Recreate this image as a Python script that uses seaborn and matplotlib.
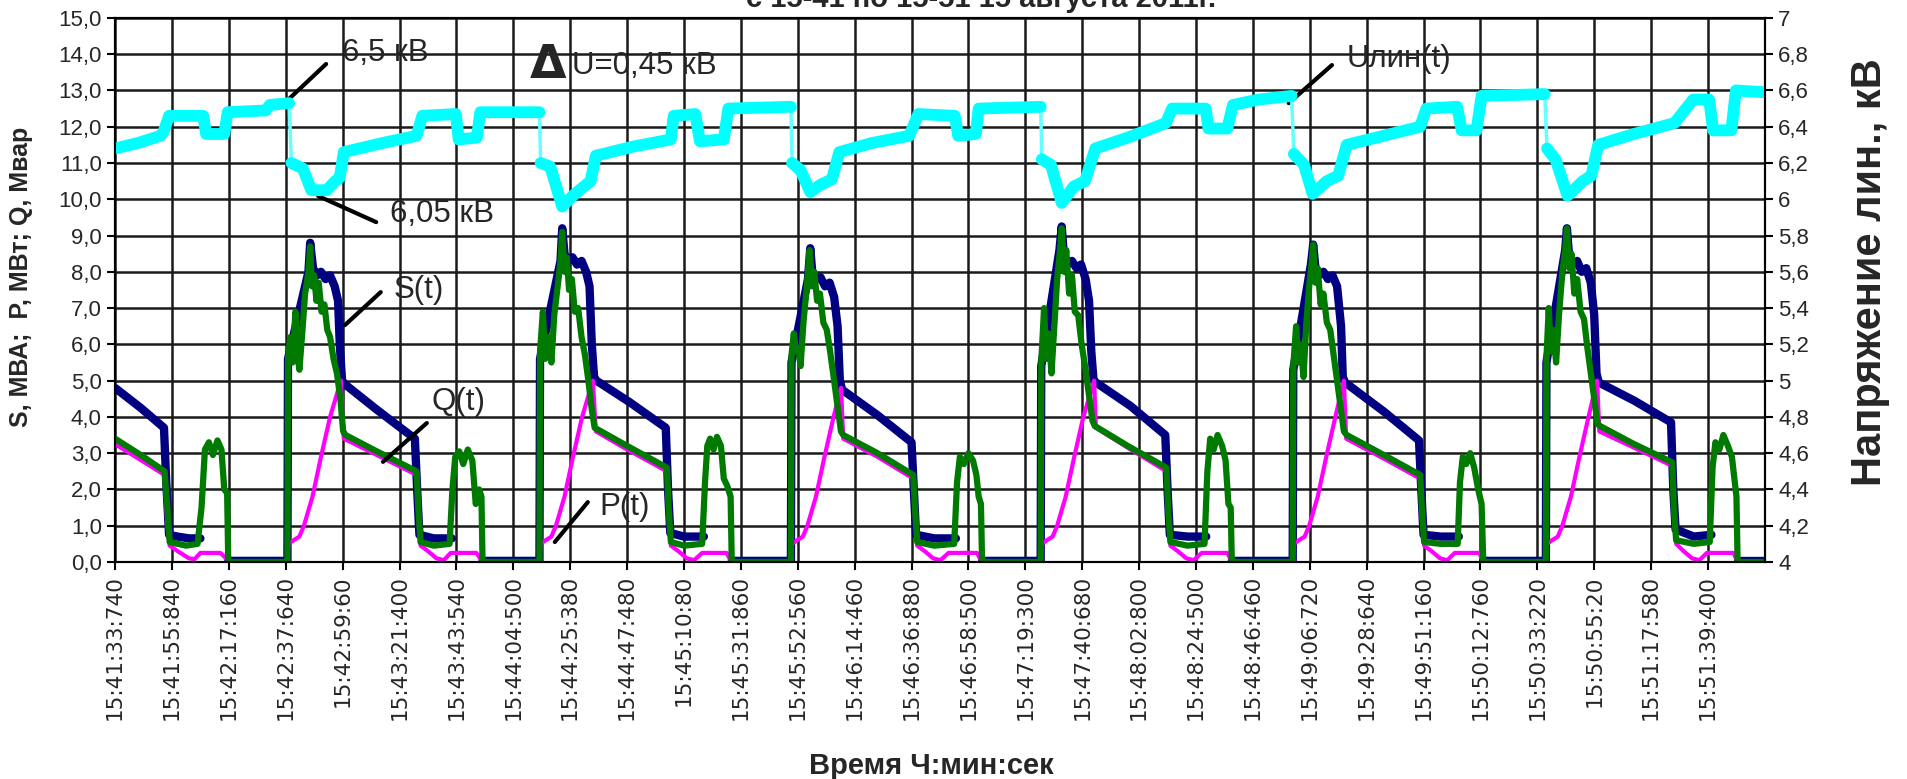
import matplotlib.pyplot as plt
import pandas as pd
import seaborn as sns

sns.set_style('ticks')
plt.rcParams['font.family'] = ['Liberation Sans', 'DejaVu Sans']
plt.rcParams['lines.solid_joinstyle'] = 'round'

# x tick labels (one per category tick, position = index)
time_labels = ['15:41:33:740', '15:41:55:840', '15:42:17:160', '15:42:37:640', '15:42:59:60',
               '15:43:21:400', '15:43:43:540', '15:44:04:500', '15:44:25:380', '15:44:47:480',
               '15:45:10:80', '15:45:31:860', '15:45:52:560', '15:46:14:460', '15:46:36:880',
               '15:46:58:500', '15:47:19:300', '15:47:40:680', '15:48:02:800', '15:48:24:500',
               '15:48:46:460', '15:49:06:720', '15:49:28:640', '15:49:51:160', '15:50:12:760',
               '15:50:33:220', '15:50:55:20', '15:51:17:580', '15:51:39:400']

# Q(t), Мвар  (x in tick units, value)
q_points = [
    (0.00, 3.40), (0.45, 2.95), (0.87, 2.50), (0.92, 1.50), (0.96, 0.55), (1.10, 0.50), (1.25, 0.45),
    (1.45, 0.50), (1.52, 1.50), (1.58, 3.10), (1.65, 3.30), (1.72, 2.95), (1.80, 3.35), (1.87, 3.10),
    (1.92, 2.00), (1.97, 1.90), (1.99, 0.00), (3.03, 0.00),
    (3.04, 5.60), (3.08, 6.20), (3.12, 5.50), (3.17, 6.90), (3.20, 5.80), (3.24, 5.30), (3.29, 6.30),
    (3.34, 7.40), (3.40, 8.00), (3.43, 8.70), (3.46, 7.60), (3.50, 7.90), (3.54, 7.20), (3.58, 7.70),
    (3.63, 6.90), (3.68, 7.10), (3.73, 6.40), (3.78, 6.20), (3.84, 5.60), (3.90, 5.20), (3.96, 4.50),
    (4.01, 3.60), (4.05, 3.50), (4.60, 3.05), (5.30, 2.50), (5.33, 1.50), (5.37, 0.55), (5.60, 0.45),
    (5.88, 0.50), (5.93, 2.00), (5.98, 2.90), (6.05, 3.05), (6.12, 2.70), (6.20, 3.10), (6.28, 2.80),
    (6.34, 1.60), (6.40, 2.00), (6.44, 1.80), (6.46, 0.00), (7.46, 0.00),
    (7.47, 5.80), (7.52, 6.90), (7.56, 5.60), (7.62, 6.20), (7.67, 5.50), (7.72, 6.80), (7.78, 7.60),
    (7.83, 8.30), (7.86, 9.10), (7.90, 8.00), (7.94, 8.40), (7.98, 7.50), (8.03, 7.80), (8.08, 6.90),
    (8.14, 7.00), (8.20, 6.20), (8.26, 5.70), (8.32, 5.00), (8.38, 4.20), (8.43, 3.70), (9.00, 3.20),
    (9.70, 2.60), (9.73, 1.50), (9.77, 0.55), (10.00, 0.45), (10.32, 0.50), (10.37, 2.20), (10.41, 3.20),
    (10.46, 3.40), (10.52, 3.10), (10.58, 3.45), (10.65, 3.20), (10.70, 2.30), (10.76, 2.10),
    (10.82, 1.80), (10.84, 0.00), (11.88, 0.00),
    (11.89, 5.70), (11.93, 6.30), (11.97, 5.80), (12.01, 5.90), (12.05, 5.40), (12.10, 6.60),
    (12.16, 7.60), (12.21, 8.60), (12.25, 7.60), (12.29, 8.00), (12.34, 7.20), (12.39, 7.40),
    (12.45, 6.60), (12.51, 6.40), (12.57, 5.80), (12.63, 5.10), (12.69, 4.40), (12.76, 3.60),
    (12.80, 3.50), (13.40, 3.00), (14.03, 2.40), (14.06, 1.50), (14.10, 0.55), (14.40, 0.45),
    (14.75, 0.50), (14.80, 2.20), (14.85, 2.90), (14.92, 2.70), (15.00, 3.00), (15.08, 2.80),
    (15.14, 2.40), (15.18, 1.80), (15.22, 1.60), (15.24, 0.00), (16.27, 0.00),
    (16.28, 5.50), (16.33, 7.00), (16.37, 5.60), (16.41, 6.30), (16.46, 5.20), (16.51, 6.50),
    (16.56, 7.80), (16.61, 8.60), (16.64, 9.20), (16.68, 8.00), (16.72, 8.60), (16.77, 7.40),
    (16.82, 7.90), (16.87, 6.90), (16.93, 6.80), (16.99, 6.00), (17.05, 5.40), (17.12, 4.60),
    (17.18, 3.90), (17.22, 3.75), (17.80, 3.20), (18.48, 2.60), (18.51, 1.50), (18.55, 0.55),
    (18.85, 0.45), (19.15, 0.50), (19.20, 2.50), (19.25, 3.40), (19.31, 3.10), (19.38, 3.50),
    (19.46, 3.20), (19.52, 2.80), (19.57, 1.60), (19.61, 1.50), (19.63, 0.00), (20.70, 0.00),
    (20.71, 5.40), (20.76, 6.50), (20.80, 5.50), (20.84, 6.00), (20.89, 5.10), (20.94, 6.60),
    (20.99, 7.60), (21.03, 8.20), (21.06, 8.75), (21.10, 7.70), (21.14, 8.10), (21.19, 7.10),
    (21.24, 7.40), (21.30, 6.60), (21.36, 6.40), (21.42, 5.70), (21.48, 5.00), (21.55, 4.20),
    (21.60, 3.60), (21.65, 3.50), (22.30, 2.95), (22.94, 2.40), (22.97, 1.50), (23.01, 0.55),
    (23.30, 0.50), (23.60, 0.50), (23.64, 2.20), (23.69, 2.90), (23.75, 2.70), (23.82, 3.00),
    (23.89, 2.60), (23.96, 2.00), (24.02, 1.60), (24.05, 0.00), (25.15, 0.00),
    (25.16, 5.60), (25.20, 7.00), (25.24, 5.80), (25.28, 6.40), (25.33, 5.50), (25.38, 6.80),
    (25.44, 8.00), (25.49, 8.60), (25.52, 9.20), (25.56, 8.10), (25.60, 8.50), (25.65, 7.40),
    (25.70, 7.80), (25.76, 6.90), (25.82, 6.70), (25.88, 5.90), (25.94, 5.20), (26.01, 4.40),
    (26.06, 3.80), (26.10, 3.75), (26.70, 3.25), (27.37, 2.75), (27.40, 1.50), (27.44, 0.60),
    (27.75, 0.50), (28.03, 0.55), (28.08, 2.60), (28.13, 3.30), (28.20, 3.10), (28.27, 3.50),
    (28.35, 3.20), (28.42, 2.90), (28.47, 2.20), (28.50, 1.80), (28.52, 0.00), (29.00, 0.00),
]

# S(t), МВА -- pieces (hidden under Q during the small reactive bumps)
s_pieces = [
    [(0.00, 4.80), (0.45, 4.25), (0.86, 3.70), (0.90, 2.20), (0.95, 0.75), (1.10, 0.70), (1.30, 0.65),
     (1.50, 0.65)],
    [(1.99, 0.03), (3.03, 0.03), (3.04, 5.60), (3.40, 8.00), (3.43, 8.80), (3.48, 8.10), (3.55, 7.90),
     (3.62, 8.00), (3.70, 7.80), (3.78, 7.90), (3.86, 7.60), (3.92, 7.20), (3.95, 6.00), (3.99, 5.00),
     (4.04, 4.90), (4.60, 4.20), (5.27, 3.40), (5.31, 2.00), (5.35, 0.75), (5.60, 0.65), (5.92, 0.65)],
    [(6.46, 0.03), (7.46, 0.03), (7.47, 5.60), (7.83, 8.30), (7.86, 9.20), (7.90, 8.50), (7.96, 8.30),
     (8.04, 8.40), (8.12, 8.20), (8.20, 8.30), (8.28, 8.00), (8.34, 7.60), (8.38, 6.00), (8.42, 5.10),
     (8.46, 5.00), (9.05, 4.40), (9.68, 3.70), (9.72, 2.00), (9.76, 0.80), (10.00, 0.70), (10.35, 0.70)],
    [(10.84, 0.03), (11.88, 0.03), (11.89, 5.50), (12.18, 7.80), (12.22, 8.65), (12.26, 7.90),
     (12.32, 7.80), (12.40, 7.85), (12.48, 7.60), (12.56, 7.70), (12.64, 7.30), (12.70, 6.50),
     (12.74, 5.00), (12.78, 4.75), (13.40, 4.05), (14.00, 3.30), (14.04, 2.00), (14.08, 0.75),
     (14.40, 0.65), (14.78, 0.65)],
    [(15.24, 0.03), (16.27, 0.03), (16.28, 5.40), (16.60, 8.60), (16.64, 9.25), (16.68, 8.40),
     (16.74, 8.20), (16.82, 8.30), (16.90, 8.10), (16.98, 8.20), (17.06, 7.80), (17.12, 7.20),
     (17.16, 5.80), (17.20, 5.00), (17.24, 4.95), (17.85, 4.30), (18.46, 3.50), (18.50, 2.00),
     (18.54, 0.75), (18.85, 0.70), (19.18, 0.70)],
    [(19.63, 0.03), (20.70, 0.03), (20.71, 5.30), (21.02, 8.20), (21.06, 8.75), (21.10, 8.10),
     (21.16, 7.90), (21.24, 8.00), (21.32, 7.80), (21.40, 7.90), (21.48, 7.60), (21.55, 6.50),
     (21.58, 5.10), (21.62, 4.95), (22.30, 4.15), (22.92, 3.35), (22.96, 2.00), (23.00, 0.75),
     (23.30, 0.70), (23.62, 0.70)],
    [(24.05, 0.03), (25.15, 0.03), (25.16, 5.50), (25.49, 8.60), (25.52, 9.20), (25.56, 8.40),
     (25.62, 8.20), (25.70, 8.30), (25.78, 8.00), (25.86, 8.10), (25.94, 7.70), (26.00, 6.80),
     (26.04, 5.20), (26.08, 4.95), (26.70, 4.45), (27.35, 3.85), (27.39, 2.00), (27.43, 0.90),
     (27.75, 0.70), (28.06, 0.75)],
    [(28.52, 0.03), (29.00, 0.03)],
]

# P(t), МВт
p_points = [
    (0.00, 3.25), (0.87, 2.40), (0.92, 1.00), (0.96, 0.45), (1.10, 0.30), (1.30, 0.10), (1.40, 0.08),
    (1.50, 0.25), (1.85, 0.25), (1.92, 0.15), (1.99, 0.00), (3.03, 0.00),
    (3.05, 0.50), (3.14, 0.60), (3.24, 0.70), (3.32, 1.00), (3.47, 1.80), (3.62, 2.90), (3.78, 4.00),
    (3.97, 5.00), (4.02, 3.40), (4.60, 2.95), (5.30, 2.40), (5.33, 1.20), (5.37, 0.45), (5.50, 0.30),
    (5.65, 0.10), (5.78, 0.05), (5.90, 0.25), (6.35, 0.25), (6.42, 0.10), (6.46, 0.00), (7.46, 0.00),
    (7.48, 0.50), (7.57, 0.60), (7.67, 0.70), (7.75, 1.00), (7.90, 1.80), (8.05, 2.90), (8.21, 4.00),
    (8.40, 5.00), (8.45, 3.60), (9.00, 3.10), (9.70, 2.50), (9.73, 1.20), (9.77, 0.45), (9.90, 0.30),
    (10.05, 0.10), (10.18, 0.05), (10.32, 0.25), (10.75, 0.25), (10.80, 0.10), (10.84, 0.00),
    (11.88, 0.00),
    (11.90, 0.50), (11.99, 0.60), (12.09, 0.70), (12.17, 1.00), (12.32, 1.80), (12.47, 2.90),
    (12.63, 4.00), (12.76, 4.80), (12.80, 3.40), (13.40, 2.90), (14.03, 2.30), (14.06, 1.20),
    (14.10, 0.45), (14.23, 0.30), (14.38, 0.10), (14.51, 0.05), (14.65, 0.25), (15.15, 0.25),
    (15.20, 0.10), (15.24, 0.00), (16.27, 0.00),
    (16.29, 0.50), (16.38, 0.60), (16.48, 0.70), (16.56, 1.00), (16.71, 1.80), (16.86, 2.90),
    (17.02, 4.00), (17.21, 5.00), (17.24, 3.70), (17.80, 3.15), (18.48, 2.50), (18.51, 1.20),
    (18.55, 0.45), (18.68, 0.30), (18.83, 0.10), (18.96, 0.05), (19.10, 0.25), (19.55, 0.25),
    (19.60, 0.10), (19.63, 0.00), (20.70, 0.00),
    (20.72, 0.50), (20.81, 0.60), (20.91, 0.70), (20.99, 1.00), (21.14, 1.80), (21.29, 2.90),
    (21.45, 4.00), (21.60, 5.00), (21.64, 3.40), (22.30, 2.85), (22.94, 2.30), (22.97, 1.20),
    (23.01, 0.45), (23.14, 0.30), (23.29, 0.10), (23.42, 0.05), (23.55, 0.25), (23.98, 0.25),
    (24.02, 0.10), (24.05, 0.00), (25.15, 0.00),
    (25.17, 0.50), (25.26, 0.60), (25.36, 0.70), (25.44, 1.00), (25.59, 1.80), (25.74, 2.90),
    (25.90, 4.00), (26.05, 5.00), (26.09, 3.60), (26.70, 3.15), (27.37, 2.65), (27.40, 1.20),
    (27.44, 0.50), (27.57, 0.30), (27.72, 0.10), (27.85, 0.05), (27.98, 0.25), (28.45, 0.25),
    (28.49, 0.10), (28.52, 0.00), (29.00, 0.00),
]

# Uлин(t), кВ (right axis) -- pieces between the sharp drops
u_pieces = [
    [(0.00, 6.28), (0.40, 6.31), (0.80, 6.35), (0.85, 6.37), (0.95, 6.46), (1.55, 6.46), (1.60, 6.36),
     (1.92, 6.36), (1.98, 6.48), (2.65, 6.49), (2.72, 6.52), (3.06, 6.53)],
    [(3.10, 6.20), (3.30, 6.17), (3.45, 6.05), (3.72, 6.05), (3.87, 6.10), (3.95, 6.12), (4.02, 6.26),
     (4.70, 6.31), (5.30, 6.35), (5.40, 6.46), (5.99, 6.47), (6.04, 6.33), (6.36, 6.34), (6.42, 6.48),
     (7.46, 6.48)],
    [(7.48, 6.20), (7.65, 6.18), (7.86, 5.96), (8.05, 6.02), (8.20, 6.06), (8.36, 6.10), (8.45, 6.24),
     (9.10, 6.29), (9.77, 6.33), (9.82, 6.46), (10.20, 6.47), (10.28, 6.32), (10.70, 6.33),
     (10.78, 6.50), (11.88, 6.51)],
    [(11.90, 6.20), (12.05, 6.16), (12.22, 6.04), (12.40, 6.08), (12.60, 6.11), (12.73, 6.26),
     (13.30, 6.31), (13.96, 6.35), (14.12, 6.47), (14.76, 6.46), (14.82, 6.35), (15.13, 6.36),
     (15.18, 6.50), (16.27, 6.51)],
    [(16.29, 6.22), (16.45, 6.19), (16.64, 5.98), (16.85, 6.07), (17.05, 6.10), (17.23, 6.28),
     (17.80, 6.34), (18.47, 6.42), (18.58, 6.50), (19.17, 6.50), (19.22, 6.39), (19.55, 6.39),
     (19.65, 6.52), (20.10, 6.55), (20.68, 6.57)],
    [(20.72, 6.25), (20.90, 6.19), (21.05, 6.03), (21.30, 6.10), (21.50, 6.13), (21.65, 6.30),
     (22.30, 6.35), (22.94, 6.40), (23.05, 6.50), (23.59, 6.51), (23.67, 6.38), (23.93, 6.38),
     (24.02, 6.57), (25.13, 6.58)],
    [(25.17, 6.28), (25.32, 6.22), (25.53, 6.02), (25.80, 6.10), (25.95, 6.13), (26.07, 6.30),
     (26.70, 6.36), (27.41, 6.42), (27.74, 6.55), (28.02, 6.55), (28.09, 6.38), (28.41, 6.38),
     (28.49, 6.60), (29.00, 6.59)],
]


def pieces_frame(pieces):
    rows = [(t, v, i) for i, piece in enumerate(pieces) for t, v in piece]
    return pd.DataFrame(rows, columns=['t', 'v', 'seg'])


df_q = pd.DataFrame(q_points, columns=['t', 'v'])
df_p = pd.DataFrame(p_points, columns=['t', 'v'])
df_s = pieces_frame(s_pieces)
df_u = pieces_frame(u_pieces)

fig, ax = plt.subplots(figsize=(19.08, 7.79), dpi=100)
fig.subplots_adjust(left=0.0603, right=0.925, top=0.977, bottom=0.2786)
ax2 = ax.twinx()

sns.lineplot(data=df_s, x='t', y='v', units='seg', estimator=None, ax=ax, color='#000080', lw=6, sort=False)
sns.lineplot(data=df_p, x='t', y='v', ax=ax, color='#FF00FF', lw=3, sort=False, estimator=None)
sns.lineplot(data=df_q, x='t', y='v', ax=ax, color='#007A00', lw=4.5, sort=False, estimator=None)
# thin trace across the voltage drops, thick band elsewhere
sns.lineplot(data=df_u, x='t', y='v', ax=ax2, color='#66FFFF', lw=2.5, sort=False, estimator=None)
sns.lineplot(data=df_u, x='t', y='v', units='seg', estimator=None, ax=ax2, color='#00FFFF', lw=8.5,
             sort=False)

ax.set_xlim(0, 29)
ax.set_ylim(0, 15)
ax2.set_ylim(4, 7)

ax.set_xticks(range(len(time_labels)))
ax.set_xticklabels(time_labels, rotation=90, fontsize=15.5, family='DejaVu Sans')
ax.set_yticks(range(16))
ax.set_yticklabels([f'{v:.1f}'.replace('.', ',') for v in range(16)], fontsize=16)
r_ticks = [4 + 0.2 * i for i in range(16)]
ax2.set_yticks(r_ticks)
ax2.set_yticklabels([f'{v:.1f}'.replace('.', ',').replace(',0', '') for v in r_ticks], fontsize=16)

ax.grid(True, color='#1a1a1a', lw=1.8)
ax.tick_params(length=6, width=1.5, color='black')
ax2.tick_params(length=6, width=1.5, color='black')
for a in (ax, ax2):
    for sp in a.spines.values():
        sp.set_visible(True)
        sp.set_color('black')
        sp.set_linewidth(1.5)

ax.set_xlabel('Время Ч:мин:сек', fontsize=21, fontweight='bold')
ax.xaxis.set_label_coords(0.495, -0.349)
ax.set_ylabel('S, МВА;  P, МВт; Q, Мвар', fontsize=18, fontweight='bold')
ax.yaxis.set_label_coords(-0.0497, 0.524)
ax2.set_ylabel('Напряжение лин., кВ', fontsize=30, fontweight='bold')
ax2.yaxis.set_label_coords(1.0515, 0.533)

fig.text(0.514, 0.991, 'с 15-41 по 15-51 15 августа 2011г.', ha='center', va='baseline',
         fontsize=21, fontweight='bold')

# callouts: leader lines and their texts
leaders = [((3.04, 12.74), (3.71, 13.73)), ((3.57, 10.09), (4.59, 9.37)), ((4.04, 6.53), (4.67, 7.44)),
           ((4.71, 2.76), (5.48, 3.83)), ((7.73, 0.55), (8.31, 1.65)), ((20.63, 12.65), (21.39, 13.70))]
for a, b in leaders:
    ax.annotate('', xy=a, xytext=b,
                arrowprops=dict(arrowstyle='-', color='black', lw=3, shrinkA=0, shrinkB=0))
callouts = [(3.99, 13.80, '6,5 кВ'), (4.83, 9.38, '6,05 кВ'), (4.89, 7.28, 'S(t)'),
            (5.57, 4.19, 'Q(t)'), (8.52, 1.30, 'P(t)'), (21.65, 13.65, 'Uлин(t)'),
            (8.03, 13.45, 'U=0,45 кВ')]
for x, y, s in callouts:
    ax.text(x, y, s, fontsize=22.5, va='baseline', ha='left')
ax.text(7.61, 13.34, 'Δ', fontsize=34, fontweight='bold', va='baseline', ha='center',
        family='DejaVu Sans')

fig.savefig('out.png', dpi=100)
